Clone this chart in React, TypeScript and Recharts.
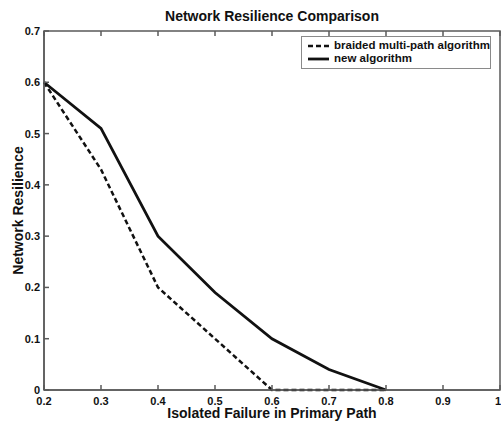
import { LineChart, Line, XAxis, YAxis, Legend, Label, ReferenceArea } from 'recharts'

// values
const failureRates = [0.2, 0.3, 0.4, 0.5, 0.6, 0.7, 0.8]
const braidedResilience = [0.6, 0.43, 0.2, 0.1, 0, 0, 0]
const newAlgResilience = [0.6, 0.51, 0.3, 0.19, 0.1, 0.04, 0]
const xTicks = [0.2, 0.3, 0.4, 0.5, 0.6, 0.7, 0.8, 0.9, 1]
const yTicks = [0, 0.1, 0.2, 0.3, 0.4, 0.5, 0.6, 0.7]

const data = failureRates.map((x, i) => ({
  x,
  braided: braidedResilience[i],
  newAlg: newAlgResilience[i],
}))

const AXIS = '#5a5a5a'
const INK = '#111'
const FONT = '"Liberation Sans", Arial, sans-serif'

// matlab style: ticks point into the plot box
const BottomTick = ({ x, y, payload }: any) => (
  <g>
    <line x1={x} x2={x} y1={y} y2={y - 5} stroke={AXIS} strokeWidth={1.5} />
    <text
      x={payload.value === 1 ? x + 1 : x}
      y={y + 14.5}
      textAnchor={payload.value === 1 ? 'end' : 'middle'}
      fontSize={11}
      fontWeight="bold"
      fill={INK}
      fontFamily={FONT}
    >
      {payload.value}
    </text>
  </g>
)

const LeftTick = ({ x, y, payload }: any) => (
  <g>
    <line x1={x} x2={x + 5} y1={y} y2={y} stroke={AXIS} strokeWidth={1.5} />
    <text x={x - 4} y={y + 4} textAnchor="end" fontSize={11} fontWeight="bold" fill={INK} fontFamily={FONT}>
      {payload.value}
    </text>
  </g>
)

const TopTick = ({ x, y }: any) => <line x1={x} x2={x} y1={y} y2={y + 5} stroke={AXIS} strokeWidth={1.5} />
const RightTick = ({ x, y }: any) => <line x1={x} x2={x - 5} y1={y} y2={y} stroke={AXIS} strokeWidth={1.5} />

const LegendBox = () => (
  <div
    style={{
      border: '1px solid #8a8a8a',
      background: '#fff',
      padding: '2px 0 3px 6px',
      fontFamily: FONT,
      fontSize: 11.5,
      fontWeight: 'bold',
      color: INK,
      lineHeight: '13px',
      whiteSpace: 'nowrap',
      boxSizing: 'border-box',
      width: 190,
    }}
  >
    <div style={{ display: 'flex', alignItems: 'center' }}>
      <svg width={21} height={8} style={{ marginRight: 5 }}>
        <line x1={0} x2={21} y1={4} y2={4} stroke={INK} strokeWidth={2.5} strokeDasharray="5 3" />
      </svg>
      braided multi-path algorithm
    </div>
    <div style={{ display: 'flex', alignItems: 'center' }}>
      <svg width={21} height={8} style={{ marginRight: 5 }}>
        <line x1={0} x2={21} y1={4} y2={4} stroke={INK} strokeWidth={2.8} />
      </svg>
      new algorithm
    </div>
  </div>
)

export default function App() {
  return (
    <div style={{ position: 'absolute', left: 0, top: 0, width: 501, height: 423, background: '#fff', overflow: 'hidden' }}>
      <div
        style={{
          position: 'absolute',
          left: 44,
          width: 456,
          top: 8,
          lineHeight: '16px',
          textAlign: 'center',
          fontFamily: FONT,
          fontSize: 14,
          fontWeight: 'bold',
          color: INK,
        }}
      >
        Network Resilience Comparison
      </div>
      <LineChart width={501} height={423} data={data} margin={{ top: 30, right: 0, bottom: 0, left: 0 }}>
        <XAxis
          dataKey="x"
          type="number"
          domain={[0.2, 1]}
          ticks={xTicks}
          height={33}
          axisLine={{ stroke: AXIS, strokeWidth: 1.5 }}
          tickSize={0}
          tickMargin={0}
          tick={BottomTick}
          interval={0}
        >
          <Label
            content={({ viewBox }: any) => (
              <text
                x={viewBox.x + viewBox.width / 2}
                y={viewBox.y + 28}
                textAnchor="middle"
                fontSize={14}
                fontWeight="bold"
                fill={INK}
                fontFamily={FONT}
              >
                Isolated Failure in Primary Path
              </text>
            )}
          />
        </XAxis>
        <XAxis
          xAxisId="top"
          dataKey="x"
          type="number"
          orientation="top"
          domain={[0.2, 1]}
          ticks={xTicks}
          height={1}
          axisLine={false}
          tickSize={0}
          tickMargin={0}
          tick={TopTick}
          interval={0}
        />
        <YAxis
          type="number"
          domain={[0, 0.7]}
          ticks={yTicks}
          width={44}
          axisLine={{ stroke: AXIS, strokeWidth: 1.5 }}
          tickSize={0}
          tickMargin={0}
          tick={LeftTick}
          interval={0}
        >
          <Label
            content={({ viewBox }: any) => {
              const cx = 23
              const cy = viewBox.y + viewBox.height / 2
              return (
                <text
                  x={cx}
                  y={cy}
                  transform={`rotate(-90, ${cx}, ${cy})`}
                  textAnchor="middle"
                  fontSize={14}
                  fontWeight="bold"
                  fill={INK}
                  fontFamily={FONT}
                >
                  Network Resilience
                </text>
              )
            }}
          />
        </YAxis>
        <YAxis
          yAxisId="right"
          type="number"
          orientation="right"
          domain={[0, 0.7]}
          ticks={yTicks}
          width={1}
          axisLine={false}
          tickSize={0}
          tickMargin={0}
          tick={RightTick}
          interval={0}
        />
        {/* plot frame */}
        <ReferenceArea
          x1={0.2}
          x2={1}
          y1={0}
          y2={0.7}
          fill="none"
          stroke={AXIS}
          strokeWidth={1.5}
          ifOverflow="visible"
        />
        <Legend
          layout="horizontal"
          verticalAlign="middle"
          align="center"
          content={() => <LegendBox />}
          wrapperStyle={{ left: 301, top: 36, width: 190 }}
        />
        <Line
          type="linear"
          dataKey="braided"
          name="braided multi-path algorithm"
          stroke={INK}
          strokeWidth={2.5}
          strokeDasharray="5 3"
          dot={false}
          isAnimationActive={false}
        />
        <Line
          type="linear"
          dataKey="newAlg"
          name="new algorithm"
          stroke={INK}
          strokeWidth={2.8}
          dot={false}
          isAnimationActive={false}
        />
      </LineChart>
    </div>
  )
}
